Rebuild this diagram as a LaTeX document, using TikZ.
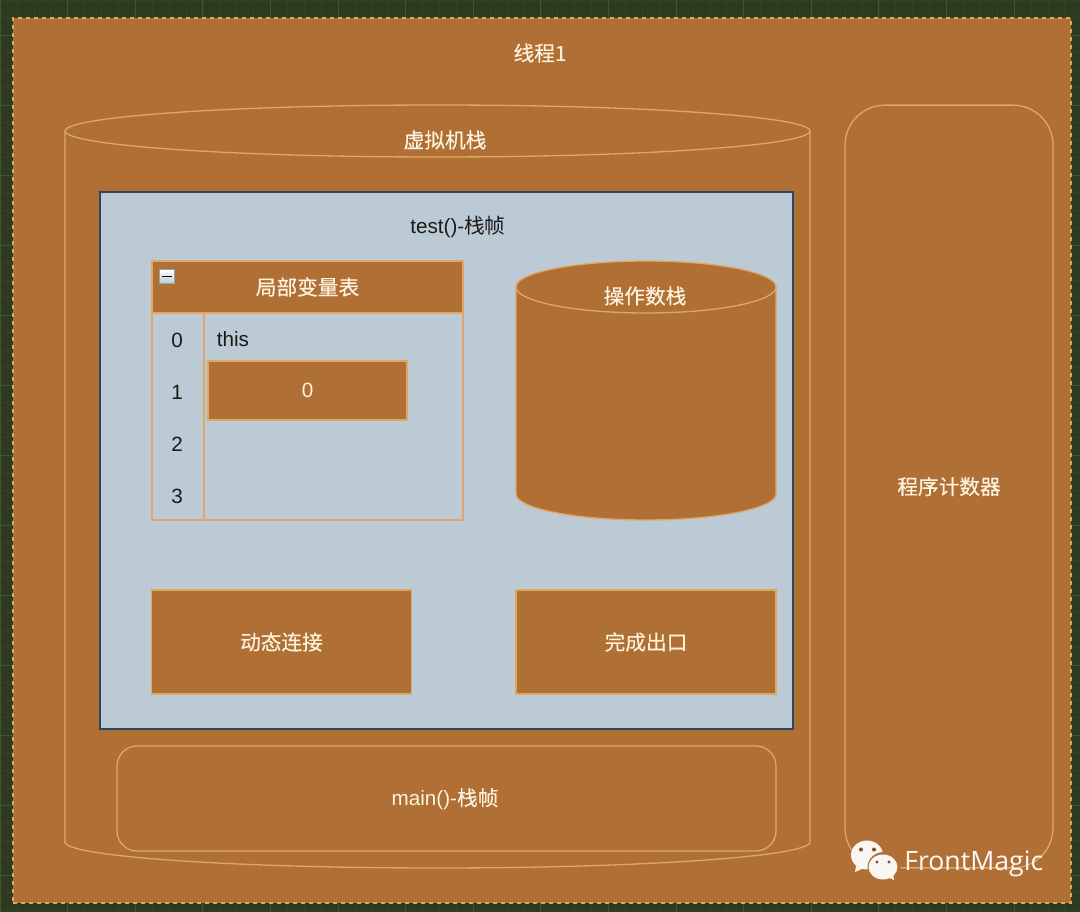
\documentclass[tikz,border=0pt]{standalone}
\usepackage{fontspec}
\setmainfont{Liberation Sans}
\newfontfamily\cjk[FakeBold=0.25]{Noto Sans CJK SC}
\newfontfamily\cjkplain{Noto Sans CJK SC}
\newfontfamily\cjkhead[FakeBold=0.6]{Noto Sans CJK SC}
\newfontfamily\markfont{Open Sans}
\usepackage{tikz}
\usetikzlibrary{positioning}
\definecolor{gridbg}{HTML}{2C3A1F}
\definecolor{gridline}{HTML}{33421F}
\definecolor{gridmajor}{HTML}{43552F}
\definecolor{boxfill}{HTML}{B06F35}
\definecolor{boxline}{HTML}{DDA765}
\definecolor{boxtext}{HTML}{FDF3DF}
\definecolor{framefill}{HTML}{BCCAD5}
\definecolor{frameline}{HTML}{2F4660}
\definecolor{inktext}{HTML}{1A1A1A}
\tikzset{
    labeltext/.style={text=boxtext,font=\cjk\fontsize{15.5}{18}\selectfont,inner sep=0pt},
    inktextnode/.style={text=inktext,font=\fontsize{15.5}{18}\selectfont,inner sep=0pt},
    shapeline/.style={draw=boxline,line width=1pt},
    fillbox/.style={shapeline,fill=boxfill,labeltext,rectangle},
}
\begin{document}
\begin{tikzpicture}[x=0.75pt,y=-0.75pt]
    \useasboundingbox (0,0) rectangle (1080,912);
    % background grid
    \fill [gridbg] (0,0) rectangle (1080,912);
    \foreach \i in {0,...,65} {
        \draw [gridline,line width=0.4pt] ({\i*16.9},0) -- ({\i*16.9},912);
    }
    \foreach \i in {0,...,53} {
        \draw [gridline,line width=0.4pt] (0,{\i*17.5}) -- (1080,{\i*17.5});
    }
    \foreach \i in {0,...,16} {
        \draw [gridmajor,line width=0.5pt] ({\i*67.6},0) -- ({\i*67.6},912);
    }
    \foreach \i in {0,...,13} {
        \draw [gridmajor,line width=0.5pt] (0,{\i*70+35}) -- (1080,{\i*70+35});
    }
    % thread box
    \node (thread) [fillbox,dashed,minimum width=793.5pt,minimum height=663.75pt] at (542,460.5) {};
    \node (threadlabel) [labeltext] at (540,53) {线程1};
    % vm stack
    \draw [shapeline,fill=boxfill] (65,131) -- (65,842) arc [start angle=180,end angle=0,x radius=372.5,y radius=26] -- (810,131);
    \draw [shapeline,fill=boxfill] (437.5,131) ellipse [x radius=372.5,y radius=26];
    \node (stacklabel) [labeltext] at (445,140) {虚拟机栈};
    % test frame
    \node (frame) [draw=frameline,line width=0.9pt,fill=framefill,minimum width=519.75pt,minimum height=402.75pt] at (446.5,460.5) {};
    \node (framelabel) [inktextnode] at (458,227) {test()-{\cjkplain 栈帧}};
    % locals table
    \node (table) [shapeline,fill=framefill,minimum width=233.25pt,minimum height=193.5pt] at (307.5,391) {};
    \node (tablehead) [fillbox,font=\cjkhead\fontsize{15.5}{18}\selectfont,minimum width=233.25pt,minimum height=39pt] at (307.5,287) {局部变量表};
    \draw [shapeline] (204,313) -- (204,520);
    \node (idx0) [inktextnode] at (177,340) {0};
    \node (idx1) [inktextnode,below=39pt of idx0.center,anchor=center] {1};
    \node (idx2) [inktextnode,below=39pt of idx1.center,anchor=center] {2};
    \node (idx3) [inktextnode,below=39pt of idx2.center,anchor=center] {3};
    \node (thisvar) [inktextnode] at (233,339) {this};
    \node (value) [fillbox,minimum width=149.25pt,minimum height=44.25pt] at (307.5,390.5) {\fontsize{15.5}{18}\selectfont\rmfamily 0};
    % collapse icon
    \node (toggle) [draw=frameline!50,line width=0.5pt,top color=white,bottom color=framefill,minimum width=11pt,minimum height=10.5pt,inner sep=0pt] at (167,276.5) {};
    \draw [black,line width=1pt,shorten >=2pt,shorten <=2pt] (toggle.west) -- (toggle.east);
    % operand stack
    \draw [shapeline,fill=boxfill] (516,287) -- (516,494) arc [start angle=180,end angle=0,x radius=130,y radius=26] -- (776,287);
    \draw [shapeline,fill=boxfill] (646,287) ellipse [x radius=130,y radius=26];
    \node (operandlabel) [labeltext] at (645,296) {操作数栈};
    % link and exit
    \node (dynlink) [fillbox,minimum width=195pt,minimum height=78pt] at (281.5,642) {动态连接};
    \node (exitbox) [fillbox,minimum width=195pt,minimum height=78pt] at (646,642) {完成出口};
    % main frame and counter
    \node (mainframe) [shapeline,fill=boxfill,rounded corners=15pt,minimum width=494.25pt,minimum height=78.75pt] at (446.5,798.5) {};
    \node (mainlabel) [text=boxtext,font=\fontsize{15.5}{18}\selectfont,inner sep=0pt] at (445,799) {main()-{\cjk 栈帧}};
    \node (counter) [fillbox,rounded corners=30pt,minimum width=156pt,minimum height=572pt] at (949,486.5) {程序计数器};
    % watermark
    \fill [white!93!boxfill] (867,855) ellipse [x radius=16,y radius=14.5];
    \fill [white!93!boxfill] (856,866) -- (855,872) -- (864,868) -- cycle;
    \fill [boxfill] (884,867) ellipse [x radius=16.5,y radius=15];
    \fill [white!93!boxfill] (883,867) ellipse [x radius=14.5,y radius=12.5];
    \fill [white!93!boxfill] (888,877) -- (894,880) -- (893,873) -- cycle;
    \fill [boxfill!70!black] (861,849.5) circle [radius=2] (874,849.5) circle [radius=2] (877,862) circle [radius=1.6] (889,862) circle [radius=1.6];
    \node (brand) [text=white!95!boxfill,font=\markfont\fontsize{20}{24}\selectfont,inner sep=0pt,anchor=west] at (904,864) {FrontMagic};
\end{tikzpicture}
\end{document}
